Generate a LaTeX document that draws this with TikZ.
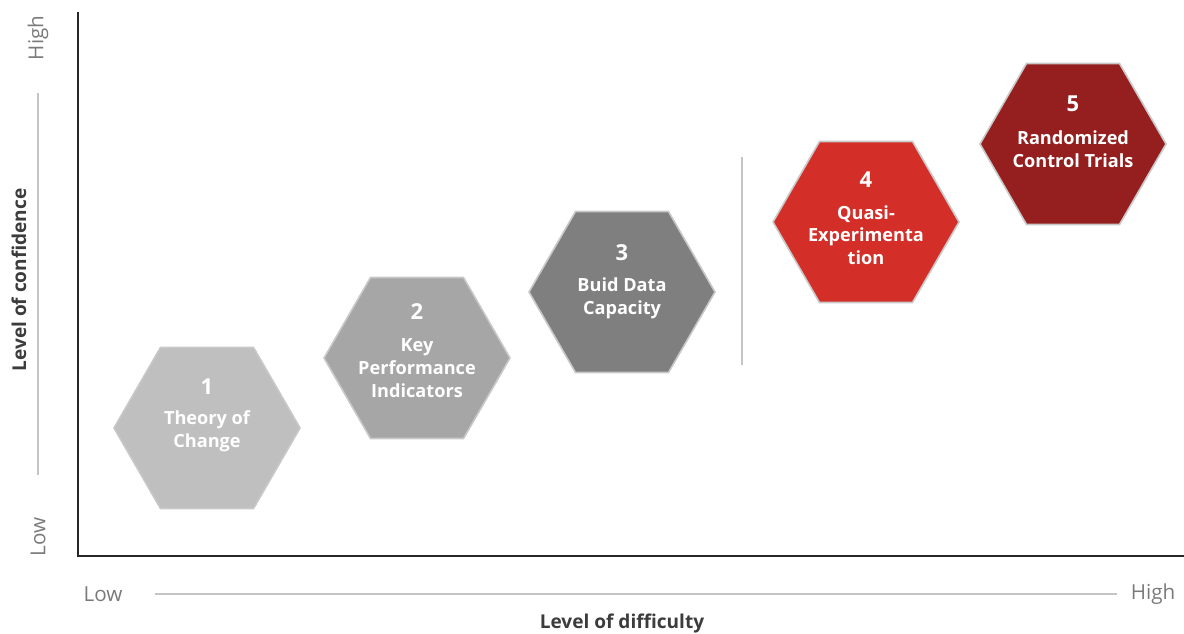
\documentclass[tikz,border=0pt]{standalone}
\usepackage{fontspec}
\setmainfont{Open Sans}
\usetikzlibrary{shapes.geometric}
\definecolor{hexA}{HTML}{BFBFBF}
\definecolor{hexB}{HTML}{A6A6A6}
\definecolor{hexC}{HTML}{7F7F7F}
\definecolor{hexD}{HTML}{D42E28}
\definecolor{hexE}{HTML}{951F1E}
\definecolor{hexborder}{HTML}{C8C8C8}
\definecolor{axisgray}{HTML}{C4C4C4}
\definecolor{lowtext}{HTML}{7A7A7A}
\definecolor{axisdark}{HTML}{262626}
\tikzset{
  hexbox/.style={regular polygon, regular polygon sides=6, minimum size=139.5pt, inner sep=0pt, draw=hexborder, line width=1.2pt},
  hextext/.style={text=white, align=center, font=\bfseries\fontsize{13.6}{17}\selectfont, inner sep=0pt},
  hexnum/.style={text=white, font=\bfseries\fontsize{16.5}{19}\selectfont, inner sep=0pt},
  endlabel/.style={text=lowtext, font=\fontsize{15.5}{17}\selectfont, inner sep=0pt},
  axistitle/.style={text=axisdark!90, font=\bfseries\fontsize{14.3}{17}\selectfont, inner sep=0pt},
  scaleline/.style={draw=axisgray, line width=2pt},
}
\begin{document}
\begin{tikzpicture}[x=0.75pt,y=-0.75pt]
\useasboundingbox (0,0) rectangle (1184,634);
% axes
\coordinate (top) at (78,12);
\coordinate (origin) at (78,556);
\coordinate (right) at (1184,556);
\draw[axisdark, line width=2pt] (top) -- (origin) -- (right);
% vertical scale
\node[endlabel, rotate=90] (vhigh) at (38,38) {High};
\node[endlabel, rotate=90] (vlow) at (38,537) {Low};
\coordinate (vs1) at (38,93);
\coordinate (vs2) at (38,475);
\draw[scaleline] (vs1) -- (vs2);
\node[axistitle, rotate=90] (ytitle) at (19,280) {Level of confidence};
% horizontal scale
\node[endlabel] (hlow) at (103,594) {Low};
\node[endlabel] (hhigh) at (1153,594) {High};
\coordinate (hs1) at (155,594);
\coordinate (hs2) at (1117,594);
\draw[scaleline] (hs1) -- (hs2);
\node[axistitle] (xtitle) at (622,623) {Level of difficulty};
% separator
\coordinate (sep1) at (742,157);
\coordinate (sep2) at (742,365);
\draw[scaleline] (sep1) -- (sep2);
% hexagons
\node[hexbox, fill=hexA] (h1) at (207,428) {};
\node[hexbox, fill=hexB] (h2) at (417,358) {};
\node[hexbox, fill=hexC] (h3) at (622,292) {};
\node[hexbox, fill=hexD] (h4) at (866,222) {};
\node[hexbox, fill=hexE] (h5) at (1073,144) {};
% texts
\node[hexnum] (n1) at (207,387) {1};
\node[hextext] (t1) at (207,431) {Theory of\\Change};
\node[hexnum] (n2) at (417,312) {2};
\node[hextext] (t2) at (417,368) {Key\\Performance\\Indicators};
\node[hexnum] (n3) at (622,253) {3};
\node[hextext] (t3) at (622,298) {Buid Data\\Capacity};
\node[hexnum] (n4) at (866,180) {4};
\node[hextext] (t4) at (866,235) {Quasi-\\Experimenta\\tion};
\node[hexnum] (n5) at (1073,104) {5};
\node[hextext] (t5) at (1073,149) {Randomized\\Control Trials};
\end{tikzpicture}
\end{document}
